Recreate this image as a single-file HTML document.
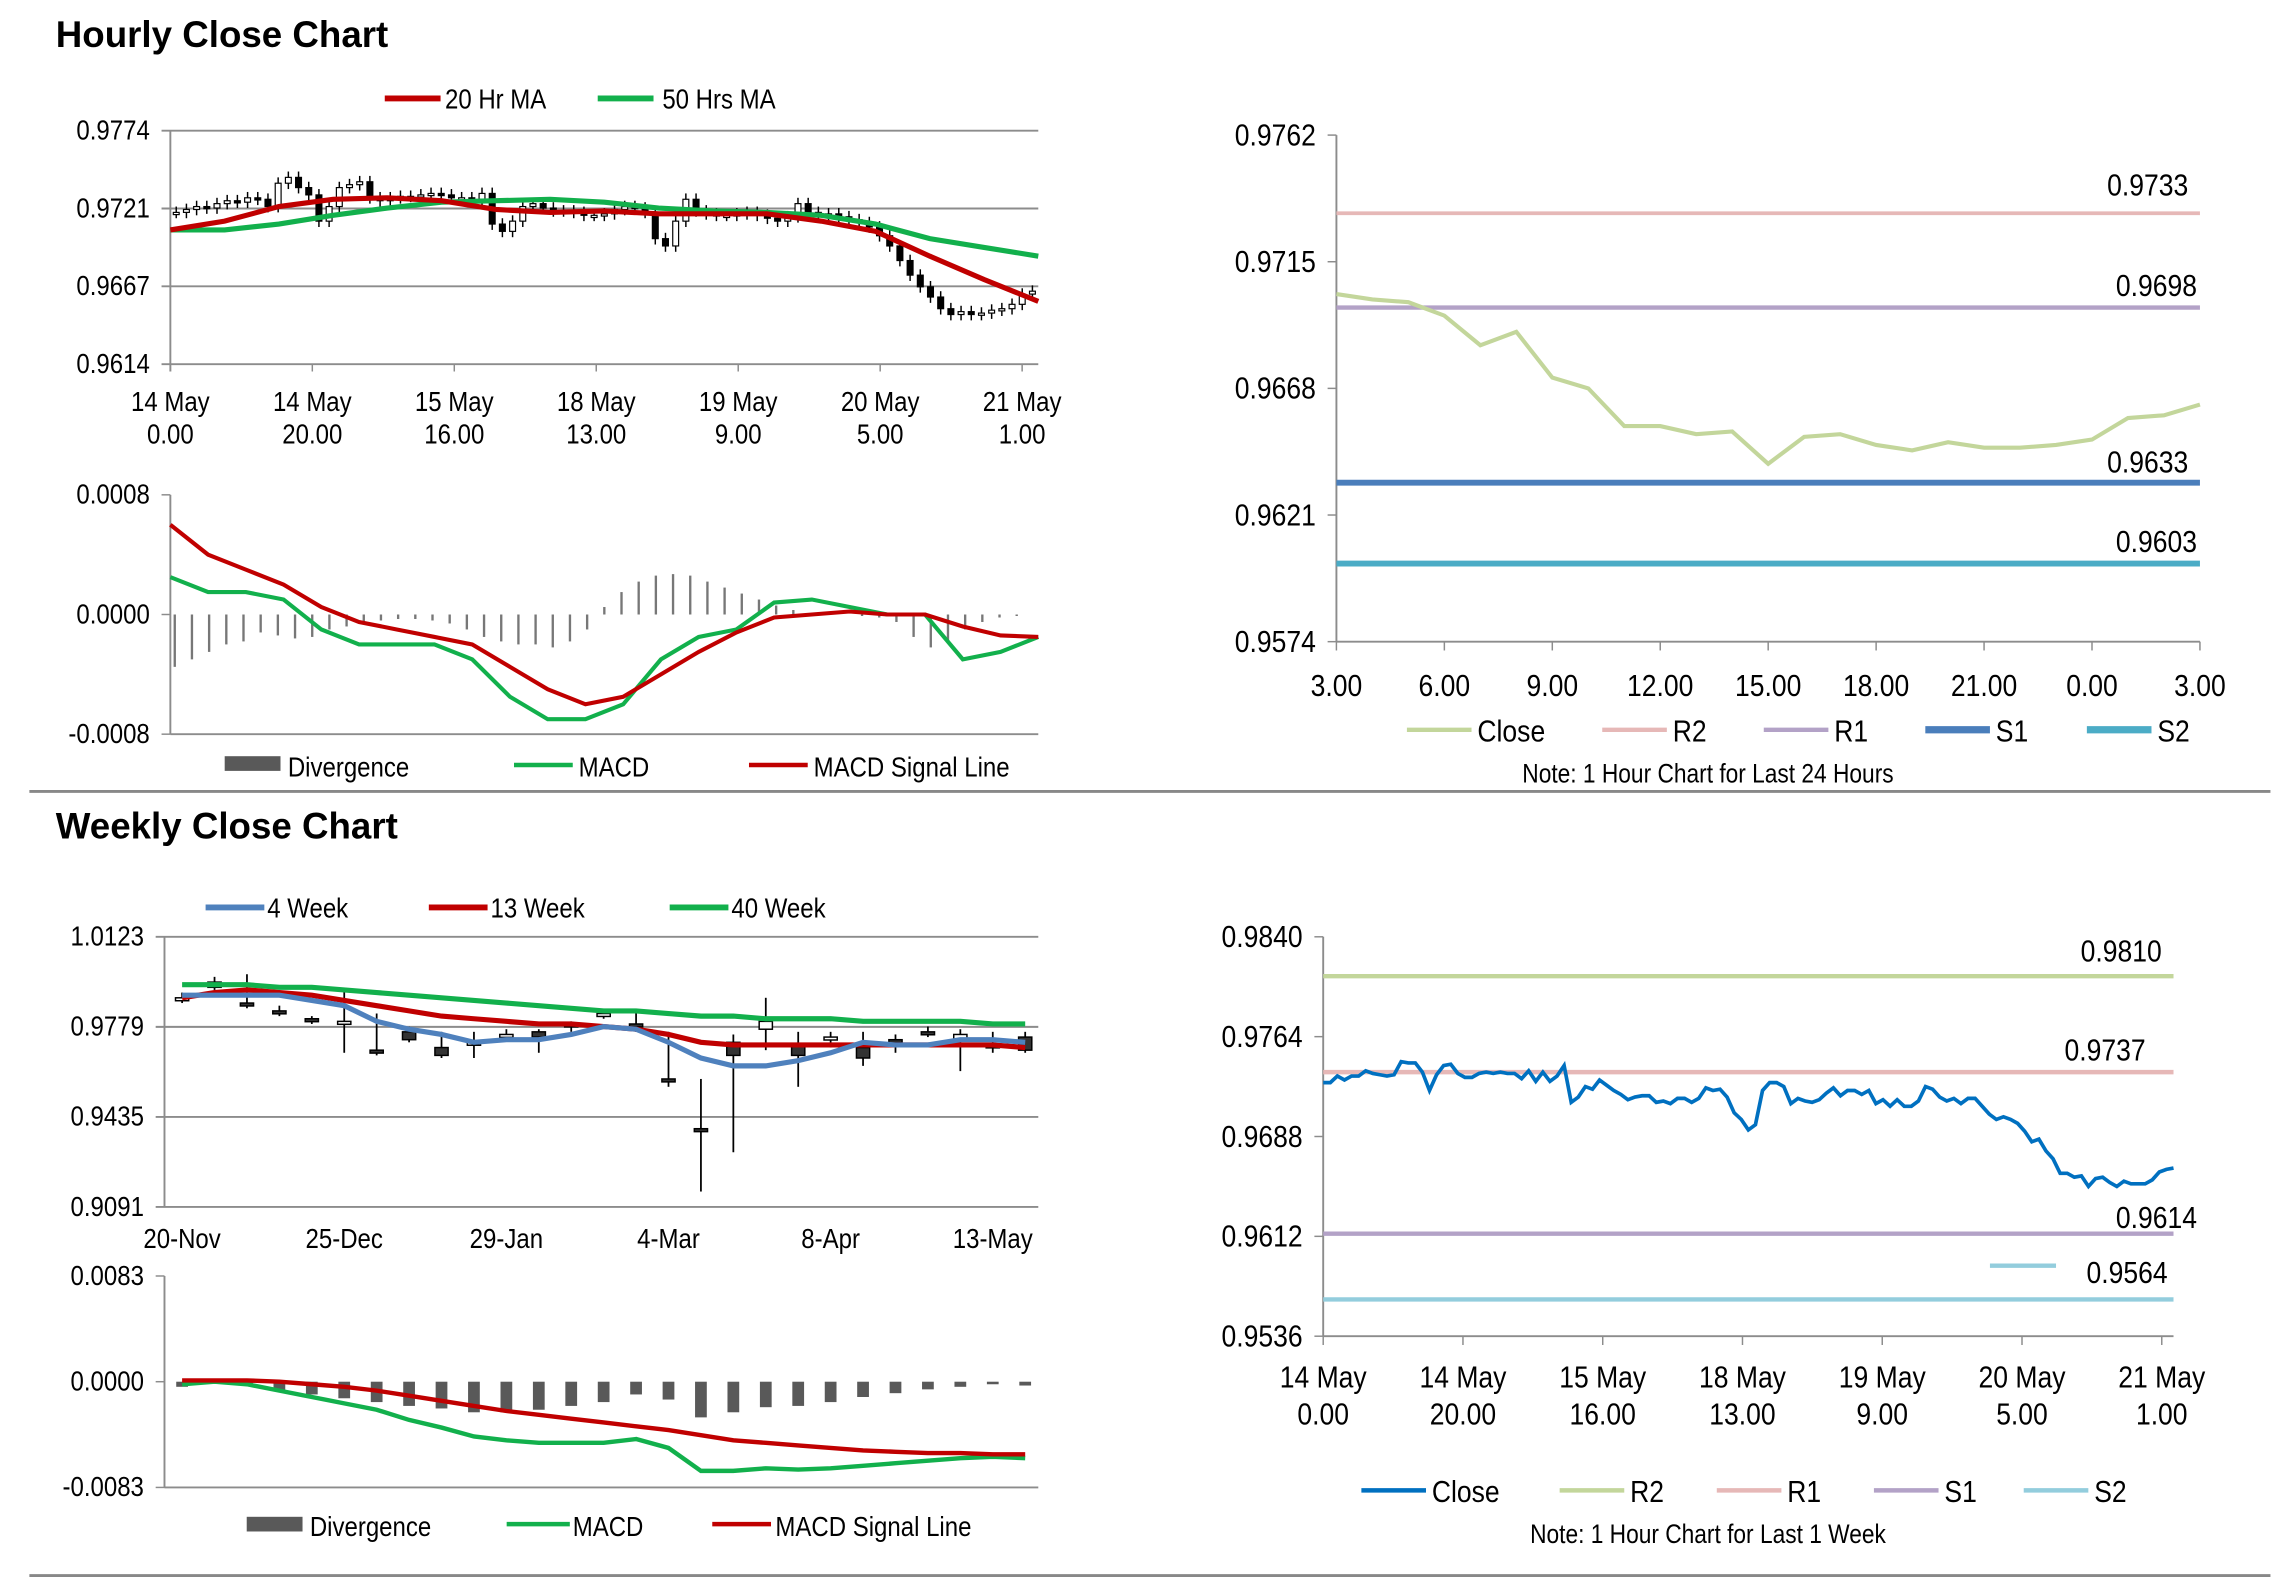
<!DOCTYPE html>
<html><head><meta charset="utf-8"><style>
html,body{margin:0;padding:0;background:#fff;}
svg{display:block;font-family:"Liberation Sans Narrow","Liberation Sans",sans-serif;}
</style></head><body>
<svg id="root" width="2291" height="1577" viewBox="0 0 1560 1074" preserveAspectRatio="none">
<text x="38" y="32" font-size="25" font-weight="bold" font-family="Liberation Sans, sans-serif">Hourly Close Chart</text>
<text x="38" y="571" font-size="25" font-weight="bold" font-family="Liberation Sans, sans-serif">Weekly Close Chart</text>
<line x1="20" y1="539" x2="1546" y2="539" stroke="#888" stroke-width="2"/>
<line x1="20" y1="1073" x2="1546" y2="1073" stroke="#888" stroke-width="2"/>
</svg>
<script>
// ---------- DATA ----------
const hourlyCloses=[0.9718,0.9720,0.9722,0.9721,0.9724,0.9726,0.9725,0.9728,0.9727,0.9722,0.9738,0.9742,0.9735,0.9730,0.9712,0.9722,0.9735,0.9737,0.9739,0.9728,0.9726,0.9728,0.9729,0.9729,0.9730,0.9731,0.9730,0.9728,0.9728,0.9727,0.9731,0.9710,0.9705,0.9712,0.9722,0.9724,0.9721,0.9719,0.9719,0.9718,0.9716,0.9716,0.9717,0.9720,0.9722,0.9721,0.9718,0.9700,0.9695,0.9712,0.9727,0.9719,0.9717,0.9716,0.9716,0.9717,0.9718,0.9716,0.9714,0.9712,0.9715,0.9724,0.9718,0.9716,0.9717,0.9715,0.9713,0.9711,0.9708,0.9702,0.9695,0.9685,0.9675,0.9667,0.9660,0.9652,0.9648,0.9650,0.9648,0.9649,0.9651,0.9652,0.9655,0.9662,0.9664];
const hourlyMA20=[0.9706,0.9712,0.9722,0.9727,0.9728,0.9726,0.9720,0.9718,0.9719,0.9717,0.9717,0.9717,0.9712,0.9705,0.9688,0.9672,0.9657];
const hourlyMA50=[0.9706,0.9706,0.9710,0.9716,0.9721,0.9725,0.9726,0.9727,0.9725,0.9721,0.9719,0.9718,0.9716,0.9710,0.9700,0.9694,0.9688];
const hourlyXLabels=[["14 May","0.00"],["14 May","20.00"],["15 May","16.00"],["18 May","13.00"],["19 May","9.00"],["20 May","5.00"],["21 May","1.00"]];
const hourlyYTicks=["0.9774","0.9721","0.9667","0.9614"];
const hMacd=[0.00025,0.00015,0.00015,0.00010,-0.00010,-0.00020,-0.00020,-0.00020,-0.00030,-0.00055,-0.00070,-0.00070,-0.00060,-0.00030,-0.00015,-0.00010,0.00008,0.00010,0.00005,0.00000,0.00000,-0.00030,-0.00025,-0.00015];
const hSignal=[0.00060,0.00040,0.00030,0.00020,0.00005,-0.00005,-0.00010,-0.00015,-0.00020,-0.00035,-0.00050,-0.00060,-0.00055,-0.00040,-0.00025,-0.00012,-0.00002,0.00000,0.00002,0.00000,0.00000,-0.00008,-0.00014,-0.00015];
const hDiv=[-0.00035,-0.00030,-0.00025,-0.00020,-0.00018,-0.00012,-0.00014,-0.00016,-0.00015,-0.00010,-0.00008,-0.00005,-0.00004,-0.00003,-0.00003,-0.00004,-0.00006,-0.00010,-0.00015,-0.00018,-0.00020,-0.00020,-0.00022,-0.00018,-0.00010,0.00005,0.00015,0.00022,0.00026,0.00027,0.00026,0.00022,0.00018,0.00014,0.00010,0.00006,0.00003,0.00001,0.00000,0.00000,-0.00001,-0.00002,-0.00005,-0.00015,-0.00022,-0.00018,-0.00010,-0.00005,-0.00002,-0.00001,0.00000];
const hMacdTicks=["0.0008","0.0000","-0.0008"];
const dayCloses=[0.9703,0.9701,0.9700,0.9695,0.9684,0.9689,0.9672,0.9668,0.9654,0.9654,0.9651,0.9652,0.9640,0.9650,0.9651,0.9647,0.9645,0.9648,0.9646,0.9646,0.9647,0.9649,0.9657,0.9658,0.9662];
const dayLevels=[0.9733,0.9698,0.9633,0.9603];
const dayXLabels=["3.00","6.00","9.00","12.00","15.00","18.00","21.00","0.00","3.00"];
const dayYTicks=["0.9762","0.9715","0.9668","0.9621","0.9574"];
const wkClose=[0.989,0.995,0.986,0.983,0.980,0.980,0.968,0.973,0.967,0.972,0.975,0.974,0.978,0.983,0.978,0.957,0.938,0.967,0.980,0.967,0.974,0.966,0.972,0.975,0.975,0.970,0.969];
const wkOpen=[0.988,0.993,0.987,0.984,0.981,0.980,0.969,0.976,0.970,0.972,0.975,0.976,0.979,0.982,0.979,0.958,0.939,0.972,0.977,0.971,0.973,0.970,0.973,0.976,0.973,0.971,0.974];
const wkHigh=[0.991,0.997,0.998,0.986,0.982,0.992,0.983,0.978,0.976,0.976,0.977,0.977,0.980,0.984,0.984,0.976,0.958,0.975,0.989,0.976,0.976,0.976,0.975,0.978,0.977,0.976,0.976];
const wkLow=[0.987,0.992,0.985,0.982,0.979,0.968,0.967,0.972,0.966,0.966,0.973,0.968,0.976,0.981,0.976,0.955,0.915,0.930,0.969,0.955,0.970,0.963,0.968,0.974,0.961,0.968,0.968];
const wk4=[0.990,0.990,0.990,0.990,0.988,0.986,0.980,0.977,0.975,0.972,0.973,0.973,0.975,0.978,0.977,0.972,0.966,0.963,0.963,0.965,0.968,0.972,0.971,0.971,0.973,0.973,0.972];
const wk13=[0.989,0.991,0.992,0.991,0.990,0.988,0.986,0.984,0.982,0.981,0.980,0.979,0.979,0.978,0.977,0.975,0.972,0.971,0.971,0.971,0.971,0.971,0.971,0.971,0.971,0.971,0.970];
const wk40=[0.994,0.994,0.994,0.993,0.993,0.992,0.991,0.990,0.989,0.988,0.987,0.986,0.985,0.984,0.984,0.983,0.982,0.982,0.981,0.981,0.981,0.980,0.980,0.980,0.980,0.979,0.979];
const wkXLabels=["20-Nov","25-Dec","29-Jan","4-Mar","8-Apr","13-May"];
const wkYTicks=["1.0123","0.9779","0.9435","0.9091"];
const wMacd=[-0.0002,0.0000,-0.0002,-0.0007,-0.0012,-0.0017,-0.0022,-0.0030,-0.0036,-0.0043,-0.0046,-0.0048,-0.0048,-0.0048,-0.0045,-0.0052,-0.0070,-0.0070,-0.0068,-0.0069,-0.0068,-0.0066,-0.0064,-0.0062,-0.0060,-0.0059,-0.0060];
const wSignal=[0.0001,0.0001,0.0001,0.0000,-0.0002,-0.0004,-0.0007,-0.0011,-0.0015,-0.0019,-0.0023,-0.0026,-0.0029,-0.0032,-0.0035,-0.0038,-0.0042,-0.0046,-0.0048,-0.0050,-0.0052,-0.0054,-0.0055,-0.0056,-0.0056,-0.0057,-0.0057];
const wDiv=[-0.0004,-0.0001,-0.0003,-0.0007,-0.0010,-0.0013,-0.0016,-0.0019,-0.0021,-0.0024,-0.0024,-0.0022,-0.0019,-0.0016,-0.0010,-0.0014,-0.0028,-0.0024,-0.0020,-0.0019,-0.0016,-0.0012,-0.0009,-0.0006,-0.0004,-0.0002,-0.0003];
const wMacdTicks=["0.0083","0.0000","-0.0083"];
const wkHourCloses=[0.9729,0.9729,0.9734,0.9731,0.9734,0.9734,0.9738,0.9736,0.9735,0.9734,0.9735,0.9745,0.9744,0.9744,0.9737,0.9723,0.9735,0.9742,0.9743,0.9736,0.9733,0.9733,0.9736,0.9737,0.9736,0.9737,0.9736,0.9736,0.9732,0.9738,0.9730,0.9737,0.9730,0.9734,0.9742,0.9714,0.9718,0.9726,0.9724,0.9731,0.9727,0.9723,0.9720,0.9716,0.9718,0.9719,0.9719,0.9714,0.9715,0.9713,0.9717,0.9717,0.9714,0.9717,0.9725,0.9723,0.9724,0.9718,0.9706,0.9701,0.9693,0.9697,0.9723,0.9729,0.9729,0.9726,0.9713,0.9717,0.9715,0.9714,0.9716,0.9721,0.9725,0.9719,0.9723,0.9723,0.9720,0.9723,0.9713,0.9716,0.9711,0.9716,0.9711,0.9711,0.9715,0.9726,0.9724,0.9718,0.9715,0.9717,0.9713,0.9717,0.9717,0.9711,0.9705,0.9701,0.9703,0.9701,0.9698,0.9692,0.9684,0.9686,0.9677,0.9671,0.9660,0.9660,0.9657,0.9658,0.9650,0.9656,0.9657,0.9653,0.9650,0.9654,0.9652,0.9652,0.9652,0.9655,0.9661,0.9663,0.9664];
const wkLevels=[0.9810,0.9737,0.9614,0.9564];
const wkHourXLabels=[["14 May","0.00"],["14 May","20.00"],["15 May","16.00"],["18 May","13.00"],["19 May","9.00"],["20 May","5.00"],["21 May","1.00"]];
const wkHourYTicks=["0.9840","0.9764","0.9688","0.9612","0.9536"];

// ---------- HELPERS ----------
const NS="http://www.w3.org/2000/svg";
const root=document.getElementById('root');
function mk(tag,attrs,parent){const e=document.createElementNS(NS,tag);for(const k in attrs)e.setAttribute(k,attrs[k]);(parent||root).appendChild(e);return e;}
function lin(d0,d1,r0,r1){return v=>r0+(v-d0)*(r1-r0)/(d1-d0);}
function txt(x,y,s,anchor,size,parent){const t=mk('text',{x:x,y:y,'font-size':size||19,'text-anchor':anchor||'start',transform:'translate('+x+',0) scale(0.86,1) translate('+(-x)+',0)'},parent);t.textContent=s;return t;}
function pathFrom(arr,xf,yf){return arr.map((v,i)=>(i?'L':'M')+xf(i).toFixed(2)+','+yf(v).toFixed(2)).join('');}
const GRID='#8c8c8c';

// ---------- HOURLY PRICE ----------
(function(){
 const g=mk('g',{});
 
 const x0=116,x1=707,yT=89,yB=248;
 const y=lin(0.9614,0.9774,yB,yT);
 hourlyYTicks.forEach((s,i)=>{const yy=yT+i*(yB-yT)/3;
  const l=mk('line',{x1:x0-6,x2:x1,y1:yy,y2:yy,stroke:GRID,'stroke-width':1.3},g);
  
  const t=txt(x0-14,yy+6,s,'end',19,g);
  });
 mk('line',{x1:x0,x2:x0,y1:yT,y2:yB+5,stroke:GRID,'stroke-width':1.3},g);
 hourlyXLabels.forEach((s,i)=>{const xx=x0+i*(x1-11-x0)/6;
  mk('line',{x1:xx,x2:xx,y1:yB,y2:yB+5,stroke:GRID},g);
  const t=txt(xx,280,s[0],'middle',19,g);
  const t2=txt(xx,302,s[1],'middle',19,g);});
 const n=hourlyCloses.length, xf=i=>x0+4+i*(x1-x0-8)/(n-1);
 hourlyCloses.forEach((c,i)=>{const o=i?hourlyCloses[i-1]:c;const hi=Math.max(o,c)+0.0004,lo=Math.min(o,c)-0.0004;
  const xx=xf(i);
  const w=mk('line',{x1:xx,x2:xx,y1:y(hi),y2:y(lo),stroke:'#000','stroke-width':1},g);
  
  const b=mk('rect',{x:xx-2,y:y(Math.max(o,c)),width:4,height:Math.max(1.5,Math.abs(y(o)-y(c))),fill:c>=o?'#fff':'#000',stroke:'#000','stroke-width':0.8},g);
  });
 const m=hourlyMA20.length, xm=i=>x0+i*(x1-x0)/(m-1);
 const p50=mk('path',{d:pathFrom(hourlyMA50,xm,y),fill:'none',stroke:'#12b04c','stroke-width':3.5},g);
 
 const p20=mk('path',{d:pathFrom(hourlyMA20,xm,y),fill:'none',stroke:'#c00000','stroke-width':3.5},g);
 
 const l1=mk('line',{x1:262,x2:300,y1:67,y2:67,stroke:'#c00000','stroke-width':4},g);
 
 const t1=txt(303,74,'20 Hr MA','start',19,g);
 const l2=mk('line',{x1:407,x2:445,y1:67,y2:67,stroke:'#12b04c','stroke-width':4},g);
 
 const t2=txt(451,74,'50 Hrs MA','start',19,g);
})();

// ---------- HOURLY MACD ----------
(function(){
 const g=mk('g',{});
 
 const x0=116,x1=707,yT=337,yB=500;
 const y=lin(-0.0008,0.0008,yB,yT);
 mk('line',{x1:x0,x2:x0,y1:yT,y2:yB,stroke:GRID,'stroke-width':1.3},g);
 mk('line',{x1:x0,x2:x1,y1:yB,y2:yB,stroke:GRID,'stroke-width':1.3},g);
 hMacdTicks.forEach((s,i)=>{const yy=yT+i*(yB-yT)/2;mk('line',{x1:x0-6,x2:x0,y1:yy,y2:yy,stroke:GRID},g);
  const t=txt(x0-14,yy+6,s,'end',19,g);});
 const nd=hDiv.length;
 hDiv.forEach((v,i)=>{const xx=x0+3+i*(x1-x0-6)/(nd-1);
  const b=mk('line',{x1:xx,x2:xx,y1:y(0),y2:y(v),stroke:'#777','stroke-width':1.6},g);
  });
 const n=hMacd.length,xf=i=>x0+i*(x1-x0)/(n-1);
 const pm=mk('path',{d:pathFrom(hMacd,xf,y),fill:'none',stroke:'#12b04c','stroke-width':2.8},g);
 
 const ps=mk('path',{d:pathFrom(hSignal,xf,y),fill:'none',stroke:'#c00000','stroke-width':2.8},g);
 
 const r=mk('rect',{x:153,y:515,width:38,height:10,fill:'#595959'},g);
 
 const a=txt(196,529,'Divergence','start',19,g);
 const l=mk('line',{x1:350,x2:390,y1:521,y2:521,stroke:'#12b04c','stroke-width':3},g);
 
 const b=txt(394,529,'MACD','start',19,g);
 const l2=mk('line',{x1:510,x2:550,y1:521,y2:521,stroke:'#c00000','stroke-width':3},g);
 
 const c=txt(554,529,'MACD Signal Line','start',19,g);
})();

// ---------- LEVEL CHART (shared) ----------
function levelChart(cfg){
 const g=mk('g',{});
 
 const {x0,x1,yT,yB,vMin,vMax}=cfg;
 const y=lin(vMin,vMax,yB,yT);
 mk('line',{x1:x0,x2:x0,y1:yT,y2:yB,stroke:GRID,'stroke-width':1.3},g);
 mk('line',{x1:x0,x2:x1,y1:yB,y2:yB,stroke:GRID,'stroke-width':1.3},g);
 cfg.yTicks.forEach((s,i)=>{const yy=yT+i*(yB-yT)/(cfg.yTicks.length-1);
  mk('line',{x1:x0-6,x2:x0,y1:yy,y2:yy,stroke:GRID},g);
  const t=txt(x0-14,yy+7,s,'end',21,g);});
 const nx=cfg.xLabels.length;
 cfg.xLabels.forEach((s,i)=>{const xx=x0+i*(cfg.xLast-x0)/(nx-1);
  mk('line',{x1:xx,x2:xx,y1:yB,y2:yB+6,stroke:GRID},g);
  if(Array.isArray(s)){
   const t=txt(xx,cfg.xLabY,s[0],'middle',21,g);
   const t2=txt(xx,cfg.xLabY+25,s[1],'middle',21,g);
  } else {const t=txt(xx,cfg.xLabY,s,'middle',21,g);}});
 cfg.levels.forEach((v,i)=>{
  const l=mk('line',{x1:x0,x2:x1,y1:y(v),y2:y(v),stroke:cfg.levelColors[i],'stroke-width':cfg.levelWidths[i]},g);
  
  const lp=cfg.labelPos[i];
  const t=txt(lp[0],y(v)+lp[1],v.toFixed(4),'end',21,g);
 });
 const n=cfg.closes.length,xf=i=>x0+i*(cfg.closeEnd-x0)/(n-1);
 const p=mk('path',{d:pathFrom(cfg.closes,xf,y),fill:'none',stroke:cfg.closeColor,'stroke-width':cfg.closeWidth},g);
 
 const names=['Close'].concat(cfg.levelNames.map(s=>s.toUpperCase()));
 const cols=[cfg.closeColor].concat(cfg.levelColors);
 cfg.legendX.forEach((lx,i)=>{
  const l=mk('line',{x1:lx,x2:lx+44,y1:cfg.legY,y2:cfg.legY,stroke:cols[i],'stroke-width':i<3?3:(cfg.legThick?5:3)},g);
  
  const t=txt(lx+48,cfg.legY+8,names[i],'start',21,g);});
 const nt=txt(cfg.noteX,cfg.legY+36,cfg.note,'middle',18,g);
 return {g,y};
}
levelChart({name:'day-levels-chart',x0:910,x1:1498,xLast:1498,closeEnd:1498,yT:92,yB:437,vMin:0.9574,vMax:0.9762,
 yTicks:dayYTicks,xLabels:dayXLabels,xLabY:474,levels:dayLevels,levelNames:['r2','r1','s1','s2'],
 levelColors:['#e6b8b7','#b3a2c7','#4a7ebb','#4bacc6'],levelWidths:[2.5,3,4,4],
 labelPos:[[1490,-12],[1496,-8],[1490,-7],[1496,-8]],closes:dayCloses,closeColor:'#c3d69b',closeWidth:2.8,
 legendX:[958,1091,1201,1311,1421],legY:497,noteX:1163,note:'Note: 1 Hour Chart for Last 24 Hours',legThick:true});
(function(){
 const r=levelChart({name:'week-levels-chart',x0:901,x1:1480,xLast:1472,closeEnd:1480,yT:638,yB:910,vMin:0.9536,vMax:0.9840,
 yTicks:wkHourYTicks,xLabels:wkHourXLabels,xLabY:945,levels:wkLevels,levelNames:['r2','r1','s1','s2'],
 levelColors:['#c3d69b','#e6b8b7','#b3a2c7','#93cddd'],levelWidths:[3,3,3,3],
 labelPos:[[1472,-10],[1461,-8],[1496,-4],[1476,-11]],closes:wkHourCloses,closeColor:'#0070c0',closeWidth:2.5,
 legendX:[927,1062,1169,1276,1378],legY:1015,noteX:1163,note:'Note: 1 Hour Chart for Last 1 Week',legThick:false});
 const l=mk('line',{x1:1355,x2:1400,y1:862,y2:862,stroke:'#93cddd','stroke-width':3},r.g);
 
})();

// ---------- WEEKLY PRICE ----------
(function(){
 const g=mk('g',{});
 
 const x0=112,x1=707,yT=638,yB=822;
 const y=lin(0.9091,1.0123,yB,yT);
 wkYTicks.forEach((s,i)=>{const yy=yT+i*(yB-yT)/3;
  const l=mk('line',{x1:x0-6,x2:x1,y1:yy,y2:yy,stroke:GRID,'stroke-width':1.3},g);
  
  const t=txt(x0-14,yy+6,s,'end',19,g);});
 mk('line',{x1:x0,x2:x0,y1:yT,y2:yB,stroke:GRID,'stroke-width':1.3},g);
 const step=(676-124)/25, xf=i=>124+i*step;
 wkXLabels.forEach((s,i)=>{const t=txt(xf(i*5),850,s,'middle',19,g);});
 wkClose.forEach((c,i)=>{const o=wkOpen[i],xx=xf(i);
  const w=mk('line',{x1:xx,x2:xx,y1:y(wkHigh[i]),y2:y(wkLow[i]),stroke:'#000','stroke-width':1.2},g);
  
  const b=mk('rect',{x:xx-4.5,y:y(Math.max(o,c)),width:9,height:Math.max(2,Math.abs(y(o)-y(c))),fill:c>=o?'#fff':'#333',stroke:'#000','stroke-width':1},g);
  });
 [[wk40,'#12b04c','ma40-line'],[wk13,'#c00000','ma13-line'],[wk4,'#4f81bd','ma4-line']].forEach(a=>{
  const p=mk('path',{d:pathFrom(a[0],xf,y),fill:'none',stroke:a[1],'stroke-width':3.5},g);
  });
 [[140,'#4f81bd','4 Week','legend-4week'],[292,'#c00000','13 Week','legend-13week'],[456,'#12b04c','40 Week','legend-40week']].forEach(a=>{
  const l=mk('line',{x1:a[0],x2:a[0]+40,y1:618,y2:618,stroke:a[1],'stroke-width':4},g);
  
  const t=txt(a[0]+42,625,a[2],'start',19,g);});
})();

// ---------- WEEKLY MACD ----------
(function(){
 const g=mk('g',{});
 
 const x0=112,x1=707,yT=869,yB=1013;
 const y=lin(-0.0083,0.0083,yB,yT);
 mk('line',{x1:x0,x2:x0,y1:yT,y2:yB,stroke:GRID,'stroke-width':1.3},g);
 mk('line',{x1:x0,x2:x1,y1:yB,y2:yB,stroke:GRID,'stroke-width':1.3},g);
 wMacdTicks.forEach((s,i)=>{const yy=yT+i*(yB-yT)/2;mk('line',{x1:x0-6,x2:x0,y1:yy,y2:yy,stroke:GRID},g);
  const t=txt(x0-14,yy+6,s,'end',19,g);});
 const step=(676-124)/25,xf=i=>124+i*step;
 wDiv.forEach((v,i)=>{const b=mk('rect',{x:xf(i)-4,y:y(0),width:8,height:y(v)-y(0),fill:'#595959'},g);
  });
 const pm=mk('path',{d:pathFrom(wMacd,xf,y),fill:'none',stroke:'#12b04c','stroke-width':3},g);
 
 const ps=mk('path',{d:pathFrom(wSignal,xf,y),fill:'none',stroke:'#c00000','stroke-width':3},g);
 
 const r=mk('rect',{x:168,y:1033,width:38,height:10,fill:'#595959'},g);
 
 const a=txt(211,1046,'Divergence','start',19,g);
 const l=mk('line',{x1:345,x2:388,y1:1038,y2:1038,stroke:'#12b04c','stroke-width':3},g);
 
 const b=txt(390,1046,'MACD','start',19,g);
 const l2=mk('line',{x1:485,x2:525,y1:1038,y2:1038,stroke:'#c00000','stroke-width':3},g);
 
 const c=txt(528,1046,'MACD Signal Line','start',19,g);
})();
</script>
</body></html>
